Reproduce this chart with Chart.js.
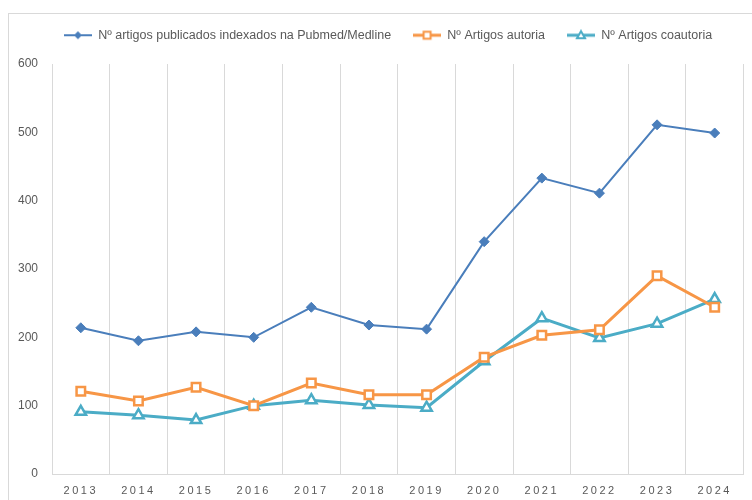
<!DOCTYPE html>
<html>
<head>
<meta charset="utf-8">
<script src="https://cdn.jsdelivr.net/npm/chart.js@4"></script>
<style>
  html, body { margin: 0; padding: 0; background: #fff; }
  #wrap { position: relative; width: 752px; height: 500px; overflow: hidden; }
  #frame { position: absolute; left: 8px; top: 13px; width: 800px; height: 600px; border: 1px solid #d9d9d9; }
  canvas { position: absolute; left: 0; top: 0; }
</style>
</head>
<body>
<div id="wrap">
  <div id="frame"></div>
  <canvas id="myChart" width="752" height="500"></canvas>
</div>
<script>
// data
const years = ['2013','2014','2015','2016','2017','2018','2019','2020','2021','2022','2023','2024'];
const pubmed = [214, 195, 208, 200, 244, 218, 212, 340, 433, 411, 511, 499];
const autoria = [121, 107, 127, 100, 133, 116, 116, 171, 203, 211, 290, 244];
const coautoria = [91, 86, 79, 100, 108, 101, 97, 165, 228, 199, 220, 256];
const yTicks = [0, 100, 200, 300, 400, 500, 600];

const FONT = "'Liberation Sans', Arial, sans-serif";
const GREY = '#595959';

// small legend picture: line with the marker in the middle
function legendIcon(color, style, lineW) {
  const c = document.createElement('canvas');
  c.width = 28; c.height = 12;
  const g = c.getContext('2d');
  g.strokeStyle = color;
  g.lineWidth = lineW;
  g.beginPath(); g.moveTo(0, 6); g.lineTo(28, 6); g.stroke();
  if (style === 'diamond') {
    g.fillStyle = color;
    g.beginPath(); g.moveTo(14, 2); g.lineTo(18, 6); g.lineTo(14, 10); g.lineTo(10, 6); g.closePath(); g.fill();
  } else if (style === 'square') {
    g.fillStyle = '#fff'; g.lineWidth = 2;
    g.fillRect(10.5, 2.5, 7, 7); g.strokeRect(10.5, 2.5, 7, 7);
  } else {
    g.fillStyle = '#fff'; g.lineWidth = 2;
    g.beginPath(); g.moveTo(14, 2); g.lineTo(18, 9); g.lineTo(10, 9); g.closePath(); g.fill(); g.stroke();
  }
  return c;
}

const icons = [
  legendIcon('#4a7ebb', 'diamond', 2),
  legendIcon('#f79646', 'square', 3),
  legendIcon('#4bacc6', 'triangle', 3)
];

// wider letter spacing on the year labels
const spacedLabels = {
  id: 'spacedLabels',
  beforeDraw(chart) {
    const s = chart.scales.x;
    if (s._spaced) return;
    const orig = s.drawLabels;
    s.drawLabels = function(area) {
      const ctx = this.ctx;
      ctx.save();
      ctx.letterSpacing = '2.5px';
      orig.call(this, area);
      ctx.restore();
    };
    s._spaced = true;
  }
};

// legend box taller, and centred a bit to the right like the original
const legendHeight = {
  id: 'legendHeight',
  beforeInit(chart) {
    const fit = chart.legend.fit;
    chart.legend.fit = function() {
      fit.call(this);
      this.height = 57;
    };
  },
  afterLayout(chart) {
    chart.legend.left += 14;
    chart.legend.right += 14;
  }
};

const data = {
  labels: years,
  datasets: [
    {
      label: 'Nº artigos publicados indexados na Pubmed/Medline',
      data: pubmed,
      borderColor: '#4a7ebb',
      backgroundColor: '#4a7ebb',
      borderWidth: 2,
      pointStyle: 'rectRot',
      pointRadius: 5,
      pointBorderWidth: 1,
      tension: 0
    },
    {
      label: 'Nº Artigos autoria',
      data: autoria,
      borderColor: '#f79646',
      backgroundColor: '#ffffff',
      borderWidth: 3,
      pointStyle: 'rect',
      pointRadius: 6,
      pointBorderWidth: 2.5,
      tension: 0
    },
    {
      label: 'Nº Artigos coautoria',
      data: coautoria,
      borderColor: '#4bacc6',
      backgroundColor: '#ffffff',
      borderWidth: 3,
      pointStyle: 'triangle',
      pointRadius: 6,
      pointBorderWidth: 2.5,
      tension: 0
    }
  ]
};

const config = {
  type: 'line',
  data: data,
  options: {
    responsive: false,
    animation: false,
    layout: { padding: { top: 7, right: 4, left: 0, bottom: 0 } },
    plugins: {
      tooltip: { enabled: false },
      legend: {
        position: 'top',
        labels: {
          usePointStyle: true,
          pointStyleWidth: 28,
          boxHeight: 12,
          padding: 22,
          color: GREY,
          font: { family: FONT, size: 12.5 },
          generateLabels(chart) {
            return chart.data.datasets.map((ds, i) => ({
              text: ds.label,
              pointStyle: icons[i],
              fillStyle: ds.borderColor,
              strokeStyle: ds.borderColor,
              lineWidth: 0,
              fontColor: GREY,
              hidden: false,
              datasetIndex: i
            }));
          }
        }
      }
    },
    scales: {
      x: {
        offset: true,
        grid: { offset: true, color: '#d9d9d9', drawTicks: false, lineWidth: 1 },
        border: { color: '#d9d9d9' },
        ticks: { color: GREY, font: { family: FONT, size: 11 }, padding: 10, maxRotation: 0 },
        afterFit(s) { s.height = 26; }
      },
      y: {
        min: 0,
        max: 600,
        afterBuildTicks(s) { s.ticks = yTicks.map(v => ({ value: v })); },
        grid: { display: false, drawTicks: false },
        border: { display: false },
        ticks: { color: GREY, font: { family: FONT, size: 12 }, padding: 14 },
        afterFit(s) { s.width = 52; }
      }
    }
  },
  plugins: [spacedLabels, legendHeight]
};

const myChart = new Chart(document.getElementById('myChart'), config);
</script>
</body>
</html>
